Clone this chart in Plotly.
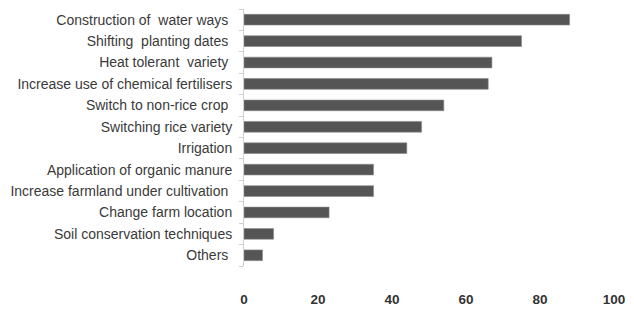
import plotly.graph_objects as go

NB = "\u00a0"
categories = [
    "Construction of  water ways" + NB,
    "Shifting  planting dates" + NB,
    "Heat tolerant  variety" + NB,
    "Increase use of chemical fertilisers",
    "Switch to non-rice crop" + NB,
    "Switching rice variety",
    "Irrigation",
    "Application of organic manure",
    "Increase farmland under cultivation" + NB,
    "Change farm location",
    "Soil conservation techniques",
    "Others" + NB,
]
values = [88, 75, 67, 66, 54, 48, 44, 35, 35, 23, 8, 5]
x_ticks = [0, 20, 40, 60, 80, 100]

fig = go.Figure(
    go.Bar(
        y=categories,
        x=values,
        orientation="h",
        width=0.5,
        marker=dict(color="#555555", line=dict(color="#8a8a8a", width=0.6)),
    )
)

fig.update_layout(
    width=618,
    height=299,
    margin=dict(l=236, r=12, t=1, b=41, autoexpand=False),
    paper_bgcolor="white",
    plot_bgcolor="white",
    showlegend=False,
    font=dict(family="Liberation Sans, Arial, sans-serif", color="#333333"),
)

fig.update_yaxes(
    categoryorder="array",
    categoryarray=categories[::-1],
    automargin=False,
    showline=True,
    linecolor="#d0d0d0",
    linewidth=1,
    ticks="outside",
    tickson="boundaries",
    ticklen=4,
    tickcolor="#d0d0d0",
    ticklabelstandoff=8,
    tickfont=dict(size=14, color="#3a3a3a"),
    showgrid=False,
    zeroline=False,
)

fig.update_xaxes(
    range=[0, 100],
    automargin=False,
    tickvals=x_ticks,
    ticktext=[str(v) for v in x_ticks],
    showline=False,
    showgrid=False,
    zeroline=False,
    ticks="",
    ticklabelstandoff=23,
    ticklabeloverflow="allow",
    tickfont=dict(size=13.5, color="#333333", weight="bold"),
)

fig.write_html("out.html")
